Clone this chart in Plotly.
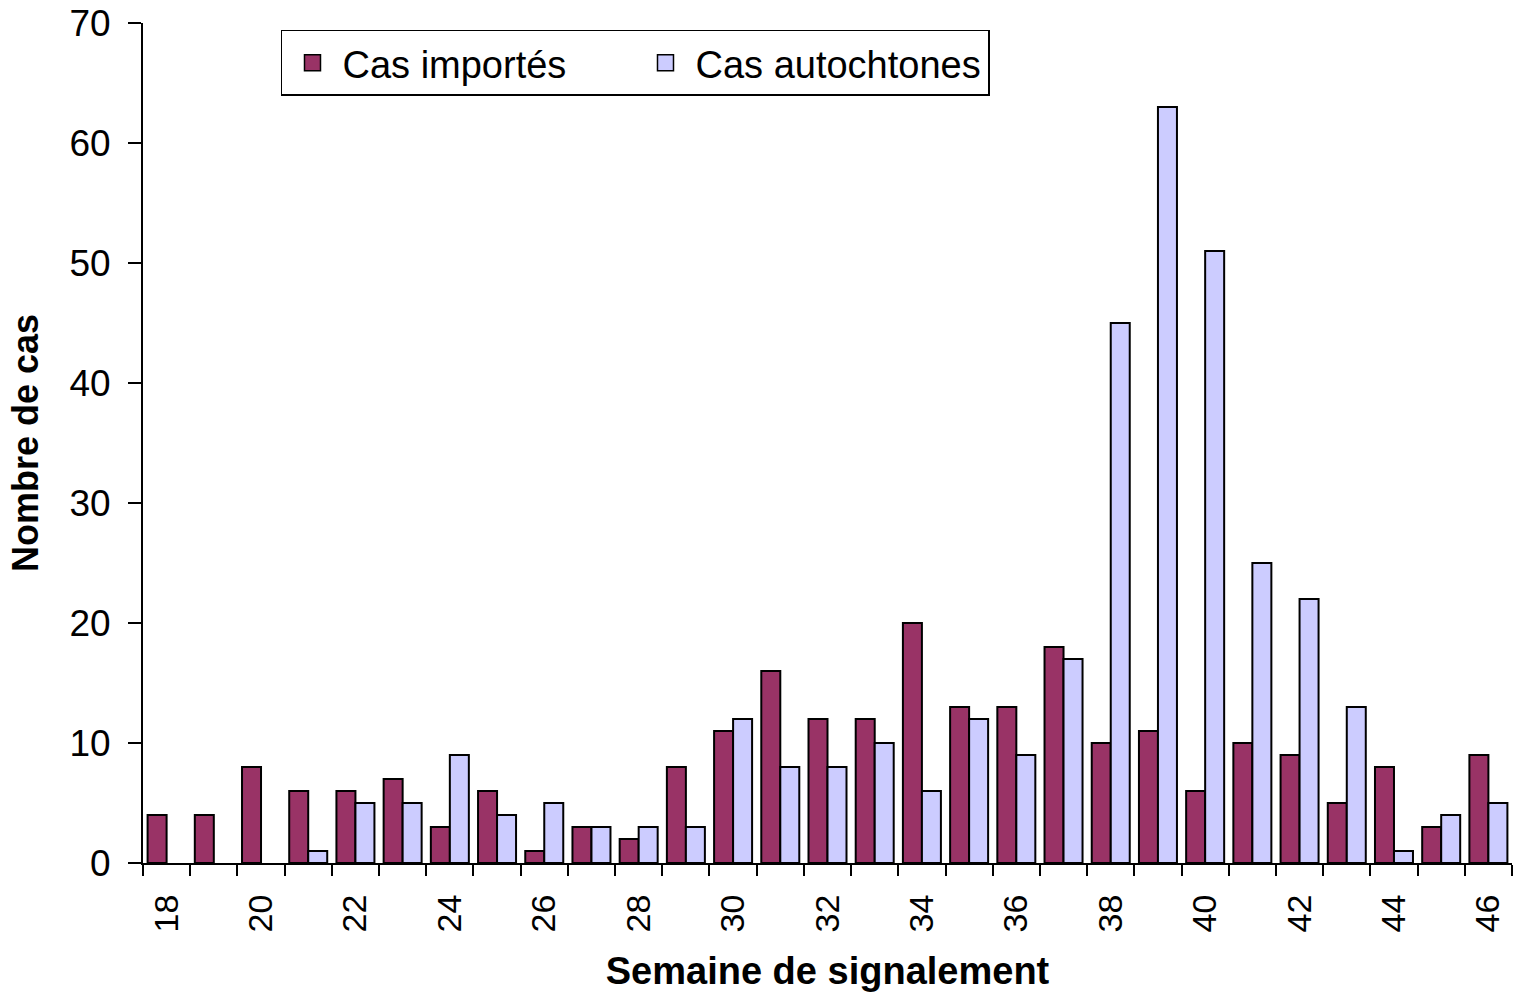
import plotly.graph_objects as go

weeks = list(range(18, 47))
importes = [4, 4, 8, 6, 6, 7, 3, 6, 1, 3, 2, 8, 11, 16, 12, 12, 20, 13, 13, 18, 10, 11, 6, 10, 9, 5, 8, 3, 9]
autochtones = [0, 0, 0, 1, 5, 5, 9, 4, 5, 3, 3, 3, 12, 8, 8, 10, 6, 12, 9, 17, 45, 63, 51, 25, 22, 13, 1, 4, 5]
tick_weeks = list(range(18, 47, 2))
y_ticks = [0, 10, 20, 30, 40, 50, 60, 70]

FONT = "Liberation Sans, Arial, sans-serif"
C_IMP = "#993366"
C_AUT = "#CCCCFF"


def outline(vals):
    return [0 if v == 0 else 2 for v in vals]


fig = go.Figure()
fig.add_trace(go.Bar(x=weeks, y=importes, name="Cas importés", showlegend=False,
                     marker=dict(color=C_IMP, line=dict(color="black", width=outline(importes)))))
fig.add_trace(go.Bar(x=weeks, y=autochtones, name="Cas autochtones", showlegend=False,
                     marker=dict(color=C_AUT, line=dict(color="black", width=outline(autochtones)))))
# legend entries with larger square symbols
for name, col in [("Cas importés", C_IMP), ("Cas autochtones", C_AUT)]:
    fig.add_trace(go.Scatter(x=[None], y=[None], mode="markers", name=name,
                             marker=dict(symbol="square", size=24, color=col,
                                         line=dict(color="black", width=1.5))))

fig.update_layout(
    width=1514, height=994,
    margin=dict(l=143, r=2, t=23, b=131),
    plot_bgcolor="white", paper_bgcolor="white",
    barmode="group", bargap=0.195, bargroupgap=0,
    font=dict(family=FONT, color="black", size=35),
    showlegend=True,
    legend=dict(orientation="h", x=0.1008, y=0.9917, xanchor="left", yanchor="top",
                bordercolor="black", borderwidth=1.5, bgcolor="white",
                font=dict(size=38), itemwidth=50, entrywidth=288, entrywidthmode="pixels",
                tracegroupgap=0, itemsizing="trace"),
    xaxis=dict(range=[17.5, 46.5], tickmode="array", tickvals=tick_weeks,
               ticktext=[str(w) for w in tick_weeks], tickangle=-90,
               ticks="", ticklabelstandoff=16, automargin=False, ticklabeloverflow="allow",
               showline=True, linecolor="black", linewidth=2, showgrid=False, zeroline=False,
               tickfont=dict(size=34),
               minor=dict(tickmode="linear", tick0=17.5, dtick=1, ticks="outside",
                          ticklen=11, tickwidth=2, tickcolor="black", showgrid=False),
               title=dict(text="<b>Semaine de signalement</b>", font=dict(size=38), standoff=26)),
    yaxis=dict(range=[0, 70], tickmode="array", tickvals=y_ticks, automargin=False,
               ticks="outside", ticklen=13, tickwidth=2, tickcolor="black",
               ticklabelstandoff=10, ticklabeloverflow="allow",
               showline=True, linecolor="black", linewidth=2, showgrid=False, zeroline=False,
               tickfont=dict(size=37),
               title=dict(text="<b>Nombre de cas</b>", font=dict(size=36), standoff=20)),
)

# remove the default 8px page margin so the figure fills the window exactly
fig.write_html("out.html", config={"displayModeBar": False},
               post_script="document.body.style.margin='0';")
